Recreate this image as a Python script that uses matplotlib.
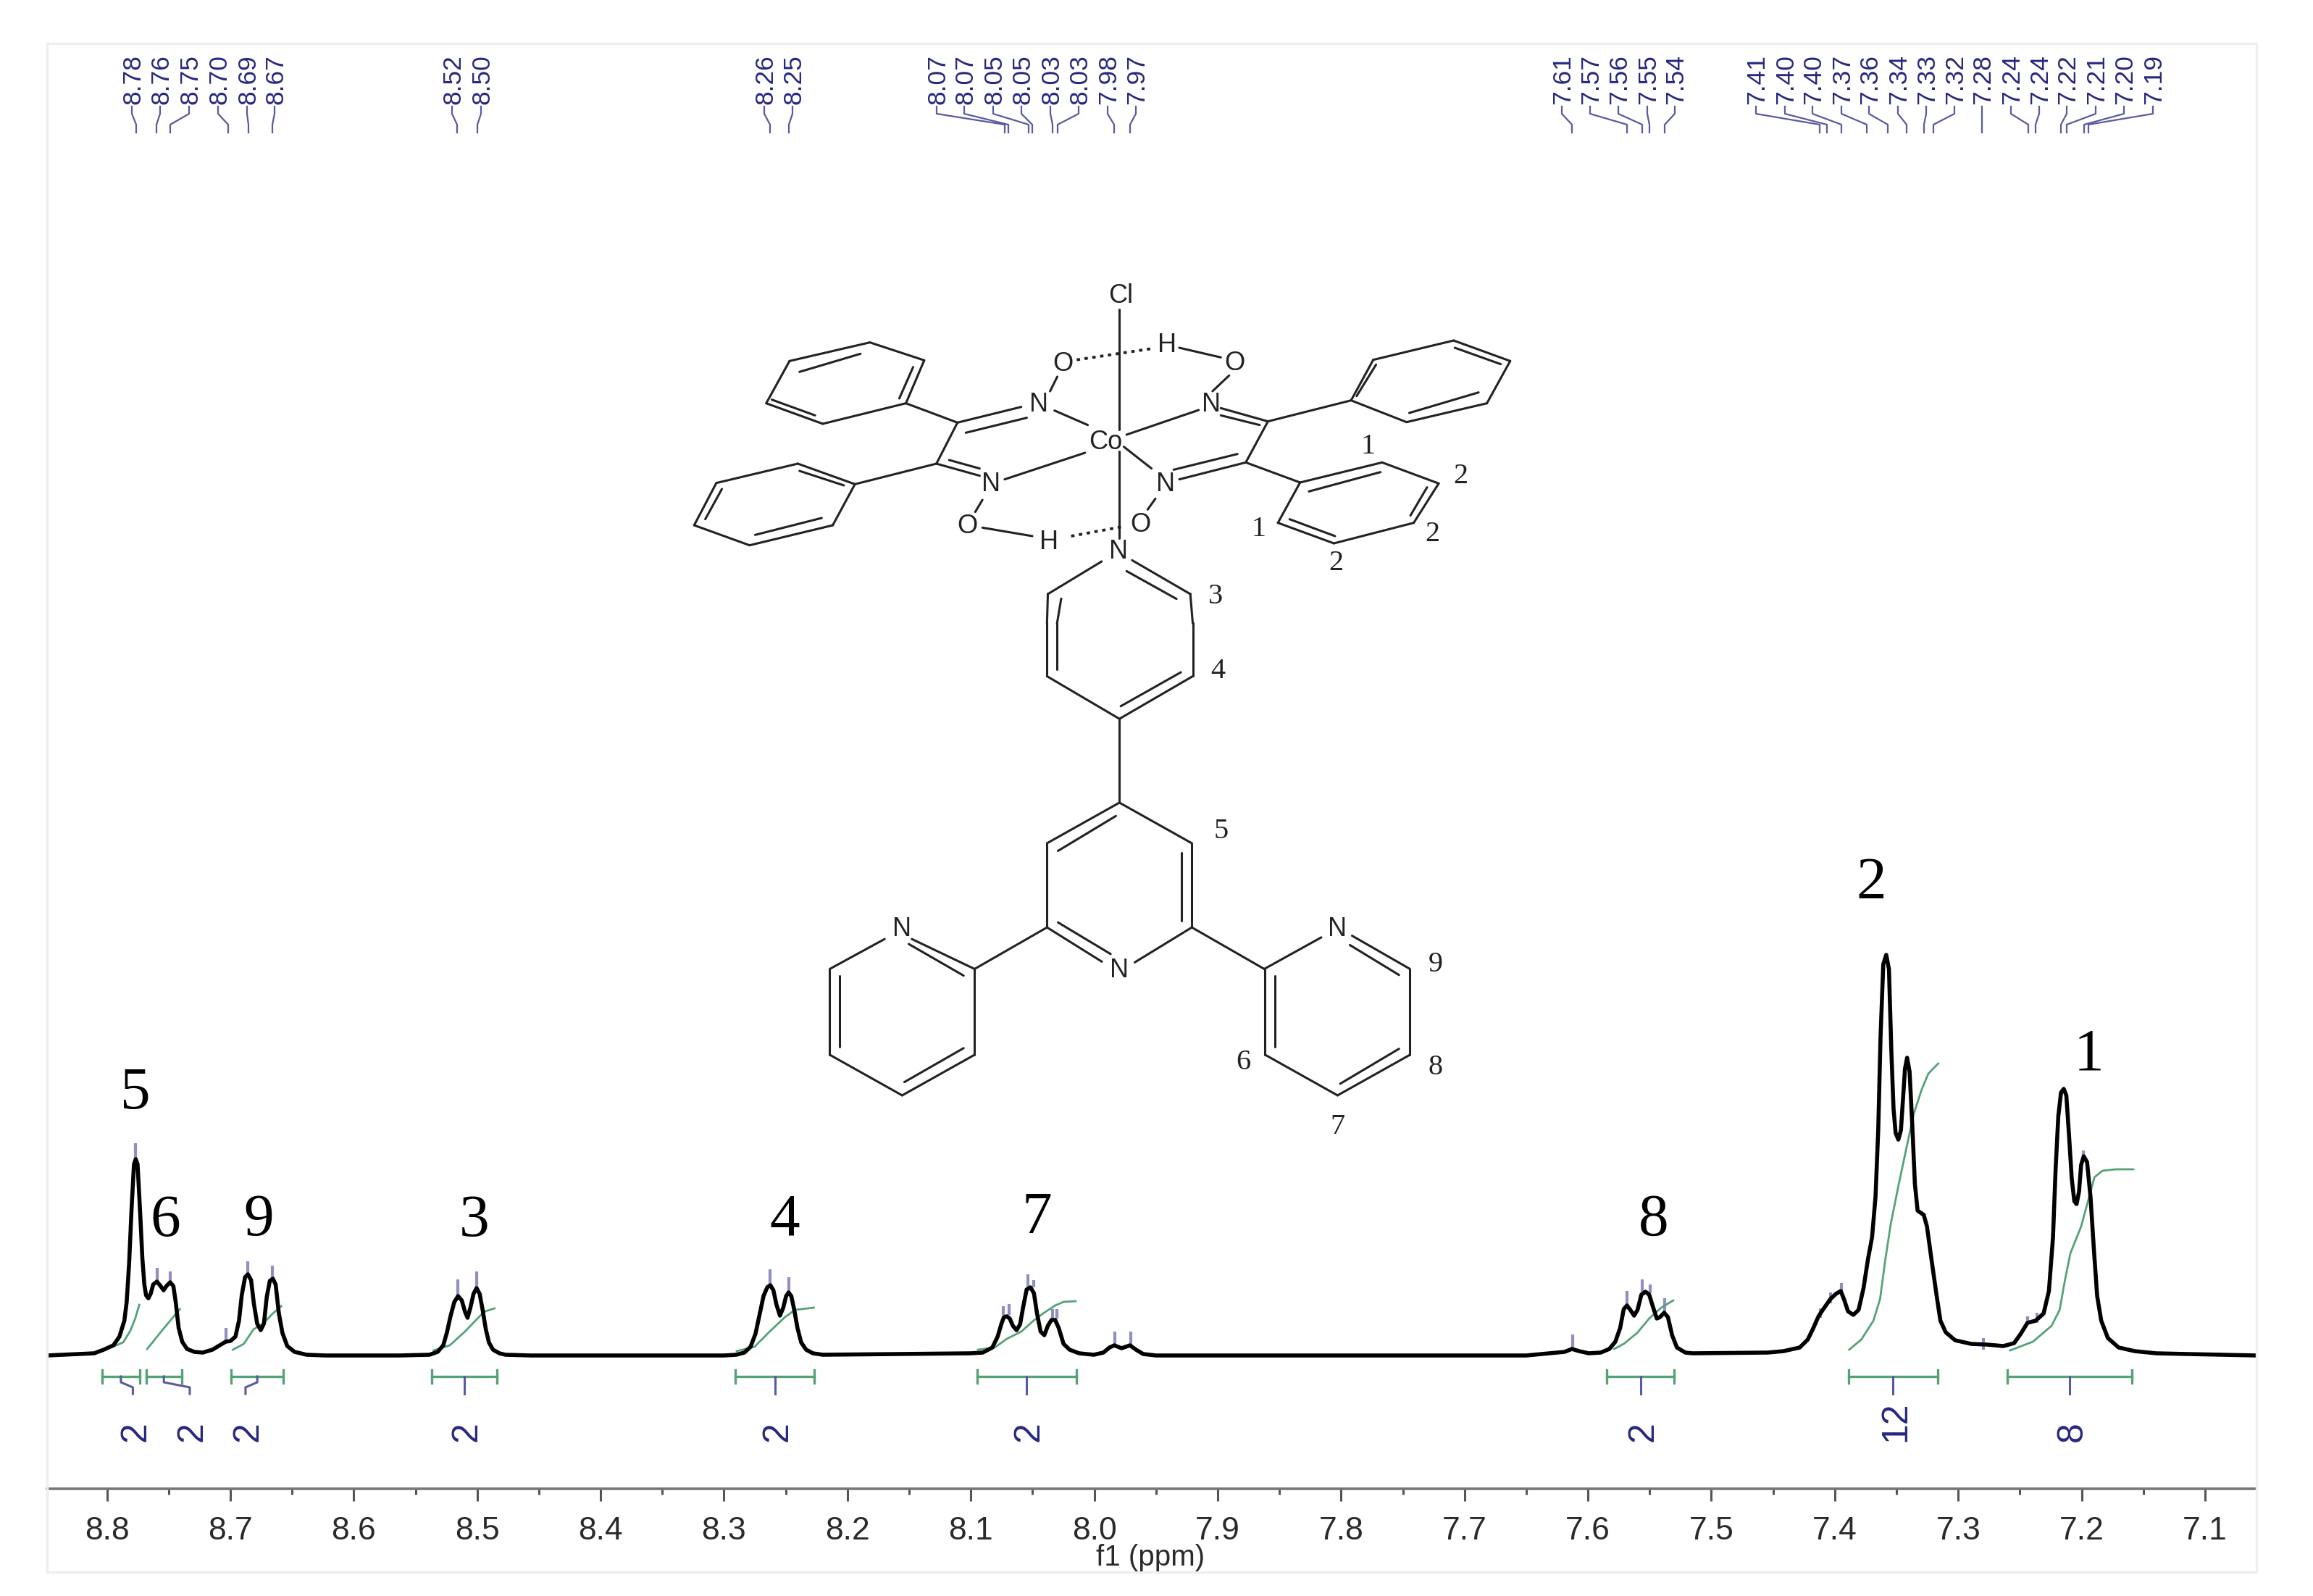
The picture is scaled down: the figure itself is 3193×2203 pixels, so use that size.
import matplotlib
matplotlib.use("Agg")
import matplotlib.pyplot as plt
from matplotlib.ticker import MultipleLocator, FormatStrFormatter

# ---------- spectrum trace (ppm, intensity) ----------
ppm = [8.8485, 8.8226, 8.8104, 8.8026, 8.7948, 8.7899, 8.7859, 8.7840, 8.7820, 8.7801, 8.7781, 8.7767,
       8.7752, 8.7732, 8.7713, 8.7697, 8.7683, 8.7664, 8.7644, 8.7625, 8.7595, 8.7566, 8.7541, 8.7517,
       8.7488, 8.7462, 8.7443, 8.7419, 8.7390, 8.7351, 8.7292, 8.7224, 8.7145, 8.7087, 8.7038, 8.6999,
       8.6959, 8.6930, 8.6907, 8.6881, 8.6858, 8.6832, 8.6809, 8.6783, 8.6754, 8.6728, 8.6705, 8.6680,
       8.6656, 8.6633, 8.6607, 8.6578, 8.6539, 8.6480, 8.6382, 8.6226,
       8.5634, 8.5387, 8.5320, 8.5275, 8.5245, 8.5215, 8.5185, 8.5155, 8.5125, 8.5098, 8.5078, 8.5055,
       8.5030, 8.5005, 8.4980, 8.4955, 8.4930, 8.4905, 8.4872, 8.4820, 8.4770, 8.4564,
       8.3000, 8.2900, 8.2835, 8.2785, 8.2745, 8.2710, 8.2680, 8.2650, 8.2625, 8.2600, 8.2575, 8.2547,
       8.2520, 8.2497, 8.2477, 8.2455, 8.2430, 8.2405, 8.2375, 8.2335, 8.2280, 8.2200,
       8.1002, 8.0904, 8.0826, 8.0783, 8.0752, 8.0732, 8.0709, 8.0685, 8.0660, 8.0630, 8.0601, 8.0575,
       8.0548, 8.0517, 8.0489, 8.0464, 8.0435, 8.0405, 8.0376, 8.0347, 8.0317, 8.0288, 8.0249, 8.0200,
       8.0122, 8.0004, 7.9926, 7.9877, 7.9838, 7.9779, 7.9711, 7.9662, 7.9603, 7.9500, 7.6500,
       7.6189, 7.6130, 7.6072, 7.5993, 7.5896, 7.5827, 7.5778, 7.5739, 7.5710, 7.5684, 7.5657, 7.5626,
       7.5598, 7.5567, 7.5534, 7.5504, 7.5475, 7.5442, 7.5416, 7.5383, 7.5352, 7.5318, 7.5279, 7.5211, 7.5152,
       7.4545, 7.4415, 7.4284, 7.4219, 7.4176, 7.4132, 7.4089, 7.4035, 7.3991, 7.3952, 7.3926, 7.3893,
       7.3850, 7.3807, 7.3767, 7.3731, 7.3698, 7.3670, 7.3648, 7.3629, 7.3607, 7.3583, 7.3561, 7.3542,
       7.3524, 7.3507, 7.3485, 7.3464, 7.3444, 7.3431, 7.3414, 7.3394, 7.3372, 7.3351, 7.3329, 7.3279,
       7.3253, 7.3220, 7.3177, 7.3144, 7.3101, 7.3025, 7.2895, 7.2764, 7.2634, 7.2547, 7.2493, 7.2439,
       7.2373, 7.2308, 7.2265, 7.2232, 7.2211, 7.2189, 7.2167, 7.2145, 7.2124, 7.2102, 7.2080, 7.2059,
       7.2041, 7.2021, 7.2004, 7.1983, 7.1956, 7.1928, 7.1900, 7.1874, 7.1841, 7.1787, 7.1700, 7.1570,
       7.1396, 7.1140, 7.0583]
intensity = [0, 2, 3, 8, 14, 26, 48, 74, 128, 201, 264, 271,
             264, 201, 134, 98, 83, 79, 86, 98, 102, 96, 90, 96,
             101, 96, 74, 38, 19, 9, 5, 4, 8, 14, 19, 20,
             26, 48, 84, 108, 112, 104, 71, 44, 35, 44, 81, 103,
             106, 98, 58, 31, 13, 5, 1, 0,
             0, 1, 5, 14, 32, 55, 74, 82, 76, 60, 52, 66,
             85, 93, 85, 62, 36, 18, 8, 3, 1, 0,
             0, 1, 4, 12, 30, 58, 82, 94, 97, 90, 70, 55,
             66, 82, 87, 82, 62, 38, 18, 8, 3, 1,
             3, 4, 11, 26, 44, 53, 54, 51, 41, 35, 43, 68,
             91, 94, 86, 58, 33, 28, 41, 49, 49, 38, 16, 8,
             3, 1, 4, 11, 14, 10, 14, 8, 2, 0, 0,
             5, 9, 6, 3, 4, 9, 19, 38, 64, 69, 63, 55,
             63, 84, 88, 84, 68, 51, 53, 59, 53, 28, 11, 4, 3,
             4, 6, 11, 22, 37, 54, 65, 78, 85, 89, 78, 61,
             56, 63, 93, 133, 163, 219, 311, 441, 540, 553, 533, 422,
             341, 307, 298, 311, 363, 396, 411, 392, 318, 237, 200, 194,
             178, 137, 85, 48, 32, 21, 16, 15, 13, 17, 30, 45,
             48, 58, 89, 163, 256, 330, 363, 368, 359, 304, 244, 213,
             209, 226, 263, 275, 267, 219, 145, 82, 48, 24, 11, 6,
             3, 2, 0]

# ---------- integral curves ----------
int_ppm = [[8.7938, 8.7869, 8.7811, 8.7771, 8.7738],
           [8.7674, 8.7556, 8.7458, 8.7409],
           [8.6979, 8.6891, 8.6813, 8.6734, 8.6656, 8.6588],
           [8.5354, 8.5222, 8.5099, 8.4975, 8.4934, 8.4860],
           [8.2897, 8.2753, 8.2630, 8.2506, 8.2424, 8.2272],
           [8.0943, 8.0806, 8.0709, 8.0591, 8.0493, 8.0415, 8.0317, 8.0249, 8.0151],
           [7.5788, 7.5710, 7.5602, 7.5504, 7.5406, 7.5309],
           [7.3883, 7.3785, 7.3687, 7.3633, 7.3590, 7.3546, 7.3481, 7.3416, 7.3361, 7.3296, 7.3242, 7.3162],
           [7.2580, 7.2395, 7.2243, 7.2178, 7.2135, 7.2091, 7.2004, 7.1939, 7.1896, 7.1831, 7.1722, 7.1581]]
int_val = [[13, 18, 34, 51, 70],
           [9, 34, 54, 64],
           [8, 16, 36, 44, 58, 68],
           [7, 14, 33, 55, 61, 65],
           [6, 12, 33, 53, 63, 66],
           [8, 11, 23, 33, 48, 58, 69, 74, 75],
           [9, 16, 31, 51, 66, 76],
           [8, 22, 48, 78, 133, 182, 237, 289, 333, 367, 389, 403],
           [7, 19, 41, 63, 104, 141, 178, 219, 246, 255, 257, 257]]

# integration ranges and values
range_left = [8.8041, 8.7683, 8.6992, 8.5366, 8.2909, 8.0951, 7.5848, 7.3889, 7.2601]
range_right = [8.7733, 8.7395, 8.6572, 8.4840, 8.2267, 8.0146, 7.5300, 7.3165, 7.1593]
range_label = ['2', '2', '2', '2', '2', '2', '2', '12', '8']
range_label_ppm = [8.7790, 8.7329, 8.6877, 8.5103, 8.2588, 8.05485, 7.5574, 7.3527, 7.2097]

# peak marks near the trace: ppm, top, bottom
mark_ppm = [8.7767, 8.7595, 8.7488, 8.7038, 8.6858, 8.6660, 8.5156, 8.5004, 8.2630, 8.2477,
            8.0738, 8.0693, 8.0536, 8.0489, 8.0341, 8.0302, 7.9836, 7.9707,
            7.6124, 7.5684, 7.5559, 7.5498, 7.5377, 7.4117, 7.4035, 7.3948, 7.2797, 7.2439, 7.2363, 7.1987]
mark_top = [293, 121, 116, 38, 130, 124, 105, 116, 119, 108,
            68, 71, 112, 104, 64, 64, 33, 33,
            29, 89, 105, 98, 79, 65, 87, 100, 24, 54, 59, 283]
mark_bot = [271, 102, 101, 20, 112, 106, 82, 93, 97, 87,
            56, 56, 94, 94, 51, 51, 14, 14,
            11, 69, 88, 86, 59, 52, 72, 85, 8, 43, 45, 274]

# peak list at the top
peak_text = ['8.78', '8.76', '8.75', '8.70', '8.69', '8.67', '8.52', '8.50', '8.26', '8.25',
             '8.07', '8.07', '8.05', '8.05', '8.03', '8.03', '7.98', '7.97',
             '7.61', '7.57', '7.56', '7.55', '7.54',
             '7.41', '7.40', '7.40', '7.37', '7.36', '7.34', '7.33', '7.32', '7.28',
             '7.24', '7.24', '7.22', '7.21', '7.20', '7.19']
peak_label_px = [184, 223, 263, 303, 343, 381, 626, 666, 1057, 1096,
                 1295, 1333, 1373, 1412, 1452, 1491, 1531, 1570,
                 2158, 2197, 2236, 2276, 2314,
                 2426, 2466, 2504, 2544, 2582, 2622, 2661, 2700, 2738,
                 2778, 2817, 2855, 2895, 2934, 2974]
peak_end_px = [188, 216, 235, 315, 343, 376, 631, 659, 1063, 1089,
               1387, 1392, 1420, 1425, 1453, 1460, 1538, 1560,
               2170, 2246, 2267, 2277, 2298,
               2512, 2522, 2542, 2577, 2606, 2632, 2656, 2669, 2736,
               2800, 2810, 2845, 2853, 2877, 2883]

# assignment numbers above the peaks: text, x px, y px
assign_text = ['5', '6', '9', '3', '4', '7', '8', '2', '1']
assign_x = [187, 228, 357, 655, 1083, 1431, 2283, 2583, 2883]
assign_y = [1510, 1686, 1685, 1686, 1685, 1682, 1685, 1220, 1457]

# ---------- figure ----------
W, H = 3193, 2203
LEFT, RIGHT, TOP, AXIS_Y, BASE_Y, BOTTOM = 65, 3115, 60, 2055, 1871, 2170
fig = plt.figure(figsize=(W / 100, H / 100), dpi=100, facecolor='white')
SANS = 'Liberation Sans'
SERIF = 'Liberation Serif'
NAVY = '#27277f'
GREEN = '#55a277'
MARK = '#8f8fc2'

ax = fig.add_axes([LEFT / W, 1 - AXIS_Y / H, (RIGHT - LEFT) / W, (AXIS_Y - TOP) / H])
ax.set_xlim(8.8485, 7.0583)
ax.set_ylim(BASE_Y - AXIS_Y, BASE_Y - TOP)
ax.patch.set_alpha(0)
for s in ['top', 'left', 'right']:
    ax.spines[s].set_visible(False)
ax.spines['bottom'].set_color('#777777')
ax.spines['bottom'].set_linewidth(2.6)
ax.set_yticks([])
ax.xaxis.set_major_locator(MultipleLocator(0.1))
ax.xaxis.set_minor_locator(MultipleLocator(0.05))
ax.xaxis.set_major_formatter(FormatStrFormatter('%.1f'))
ax.tick_params(axis='x', which='major', length=12.5, width=2.2, color='#555555', pad=15,
               labelsize=32, labelcolor='#2a2a2a')
ax.tick_params(axis='x', which='minor', length=6, width=2.2, color='#555555')
for t in ax.get_xticklabels():
    t.set_family(SANS)

ax.plot(ppm, intensity, color='black', lw=4.0, solid_joinstyle='round', zorder=5)

for xs, ys in zip(int_ppm, int_val):
    ax.plot(xs, ys, color=GREEN, lw=2.0, zorder=4, solid_joinstyle='round')

for x, t, b in zip(mark_ppm, mark_top, mark_bot):
    ax.plot([x, x], [b, t], color=MARK, lw=3.0, zorder=3, solid_capstyle='butt')

BR_Y = BASE_Y - 1900
for l, r, lab, lx in zip(range_left, range_right, range_label, range_label_ppm):
    c = (l + r) / 2
    ax.plot([l, r], [BR_Y, BR_Y], color=GREEN, lw=2.4, clip_on=False)
    for e in (l, r):
        ax.plot([e, e], [BR_Y - 9, BR_Y + 9], color=GREEN, lw=2.4, clip_on=False)
    ax.plot([c, c, lx, lx], [BR_Y, BR_Y - 8, BR_Y - 15, BR_Y - 24], color='#5a5a9e', lw=2.2, clip_on=False)
    ax.text(lx - 0.0022, BASE_Y - 1990, lab, rotation=90, ha='center', va='bottom', color=NAVY,
            fontsize=36, family=SANS)

# ---------- overlay in picture pixels: frame, labels, structure ----------
ov = fig.add_axes([0, 0, 1, 1])
ov.set_xlim(0, W)
ov.set_ylim(H, 0)
ov.axis('off')
ov.patch.set_alpha(0)

ov.plot([LEFT, RIGHT, RIGHT, LEFT, LEFT], [TOP, TOP, BOTTOM, BOTTOM, TOP], color='#eeeeee', lw=2.4)
ov.text(1588, 2150, 'f1 (ppm)', ha='center', va='center', fontsize=29, family=SANS, color='#2a2a2a')

for txt, lx, ex in zip(peak_text, peak_label_px, peak_end_px):
    ov.text(lx, 144, txt, rotation=90, ha='center', va='bottom', fontsize=25.5, family=SANS, color=NAVY)
    ov.plot([lx - 2, lx - 2, ex, ex], [147, 157, 172, 183], color='#5a5a9e', lw=1.6, solid_joinstyle='round')

for t, x, y in zip(assign_text, assign_x, assign_y):
    ov.text(x, y, t, ha='center', va='center', fontsize=60, family=SERIF, color='black')


def z3(x, y):
    return 920 + x / 1.3067, 360 + y / 3.0


def z4(x, y):
    return 1100 + x / 1.6505, 860 + y / 2.178


bonds_upper = [
    # upper-left phenyl
    (367, 338, 465, 412), (465, 412, 432, 590), (432, 590, 282, 675), (282, 675, 180, 590), (180, 590, 222, 415),
    (222, 415, 367, 338), (350, 385, 240, 460), (445, 440, 420, 570), (268, 640, 190, 575),
    # left dioxime
    (432, 590, 525, 670), (525, 670, 640, 605), (540, 712, 650, 650), (525, 670, 487, 840), (700, 620, 760, 680),
    (692, 540, 705, 480), (487, 840, 565, 890), (510, 825, 565, 860), (755, 795, 610, 905),
    (570, 990, 557, 1040), (570, 1105, 660, 1140), (487, 840, 340, 925),
    # lower-left phenyl
    (340, 925, 237, 840), (237, 840, 90, 920), (90, 920, 50, 1095), (50, 1095, 150, 1178), (150, 1178, 300, 1095),
    (300, 1095, 340, 925), (240, 870, 320, 930), (100, 945, 70, 1070), (160, 1135, 280, 1065),
    # right dioxime
    (925, 360, 1000, 400), (985, 540, 1015, 475), (960, 618, 830, 720), (1000, 610, 1085, 665), (1000, 640, 1070, 680),
    (1085, 665, 1235, 578), (1085, 665, 1045, 835), (1030, 800, 915, 865), (1045, 835, 925, 905),
    (875, 860, 825, 770), (882, 985, 868, 1030), (1045, 835, 1143, 918),
    # upper-right phenyl
    (1235, 578, 1275, 410), (1275, 410, 1420, 330), (1420, 330, 1522, 415), (1522, 415, 1480, 590),
    (1480, 590, 1335, 668), (1335, 668, 1235, 578), (1422, 360, 1505, 428), (1465, 545, 1340, 630), (1280, 430, 1245, 560),
    # lower-right phenyl
    (1143, 918, 1291, 835), (1291, 835, 1393, 922), (1393, 922, 1348, 1085), (1348, 1085, 1204, 1170),
    (1204, 1170, 1103, 1085), (1103, 1085, 1143, 918), (1159, 955, 1288, 875), (1372, 938, 1342, 1055), (1124, 1070, 1206, 1140),
    # Cl-Co-N axis
    (817, 200, 817, 700), (817, 790, 817, 1150),
    # top pyridine
    (785, 1245, 688, 1380), (840, 1240, 945, 1380), (830, 1285, 920, 1400),
]
bonds_lower = [
    (570, 0, 570, 160), (593, 0, 593, 140), (902, 0, 902, 160), (570, 160, 735, 288), (902, 160, 735, 288), (875, 148, 738, 250),
    (735, 288, 735, 540),
    # central ring
    (735, 540, 900, 662), (900, 662, 900, 915), (900, 915, 770, 1020), (695, 1018, 570, 915), (570, 915, 570, 662), (570, 662, 735, 540),
    (727, 580, 595, 685), (877, 690, 877, 895), (595, 900, 715, 995),
    # left pyridine
    (570, 915, 405, 1040), (405, 1040, 405, 1298), (405, 1298, 240, 1420), (240, 1420, 75, 1298), (75, 1298, 75, 1040),
    (75, 1040, 200, 950), (262, 950, 405, 1040), (255, 965, 380, 1060), (98, 1060, 98, 1275), (245, 1380, 380, 1278),
    # right pyridine
    (900, 915, 1065, 1040), (1065, 1040, 1195, 945), (1265, 940, 1397, 1040), (1397, 1040, 1397, 1298), (1397, 1298, 1232, 1420),
    (1232, 1420, 1067, 1298), (1067, 1298, 1067, 1040), (1260, 968, 1372, 1058), (1090, 1060, 1090, 1275), (1372, 1280, 1238, 1385),
]
BOND = '#222222'
for x0, y0, x1, y1 in bonds_upper:
    a, b = z3(x0, y0), z3(x1, y1)
    ov.plot([a[0], b[0]], [a[1], b[1]], color=BOND, lw=2.2, solid_capstyle='round')
for x0, y0, x1, y1 in bonds_lower:
    a, b = z4(x0, y0), z4(x1, y1)
    ov.plot([a[0], b[0]], [a[1], b[1]], color=BOND, lw=2.2, solid_capstyle='round')
# join the top pyridine sides across the two crops
for top_x, low_x in [(688, 570), (945, 902)]:
    a, b = z3(top_x, 1380), z4(low_x, 0)
    ov.plot([a[0], b[0]], [a[1], b[1]], color=BOND, lw=2.2)
a, b = z3(712, 1400), z4(593, 0)
ov.plot([a[0], b[0]], [a[1], b[1]], color=BOND, lw=2.2)
for (x0, y0, x1, y1) in [(740, 410, 880, 362), (730, 1140, 825, 1100)]:
    a, b = z3(x0, y0), z3(x1, y1)
    ov.plot([a[0], b[0]], [a[1], b[1]], color=BOND, lw=2.8, ls=(0, (1.2, 1.6)))

atoms_upper = [('Cl', 820, 145), ('O', 715, 428), ('H', 903, 350), ('O', 1025, 425), ('N', 672, 596), ('N', 983, 596),
               ('Co', 792, 750), ('N', 585, 925), ('N', 900, 925), ('O', 543, 1100), ('H', 690, 1165), ('O', 855, 1095),
               ('N', 815, 1205)]
atoms_lower = [('N', 240, 921), ('N', 735, 1044), ('N', 1232, 921)]
for t, x, y in atoms_upper:
    p = z3(x, y)
    ov.text(p[0], p[1], t, ha='center', va='center', fontsize=26, family=SANS, color='#222222')
for t, x, y in atoms_lower:
    p = z4(x, y)
    ov.text(p[0], p[1], t, ha='center', va='center', fontsize=26, family=SANS, color='#222222')

nums_upper = [('1', 1265, 769), ('2', 1432, 892), ('1', 1068, 1112), ('2', 1382, 1132), ('2', 1208, 1252), ('3', 990, 1390)]
nums_lower = [('4', 960, 144), ('5', 966, 626), ('9', 1455, 1026), ('6', 1018, 1321), ('8', 1455, 1337), ('7', 1232, 1514)]
for t, x, y in nums_upper:
    p = z3(x, y)
    ov.text(p[0], p[1], t, ha='center', va='center', fontsize=29, family=SERIF, color='#222222')
for t, x, y in nums_lower:
    p = z4(x, y)
    ov.text(p[0], p[1], t, ha='center', va='center', fontsize=29, family=SERIF, color='#222222')

fig.savefig('out.png', dpi=100, facecolor='white')
